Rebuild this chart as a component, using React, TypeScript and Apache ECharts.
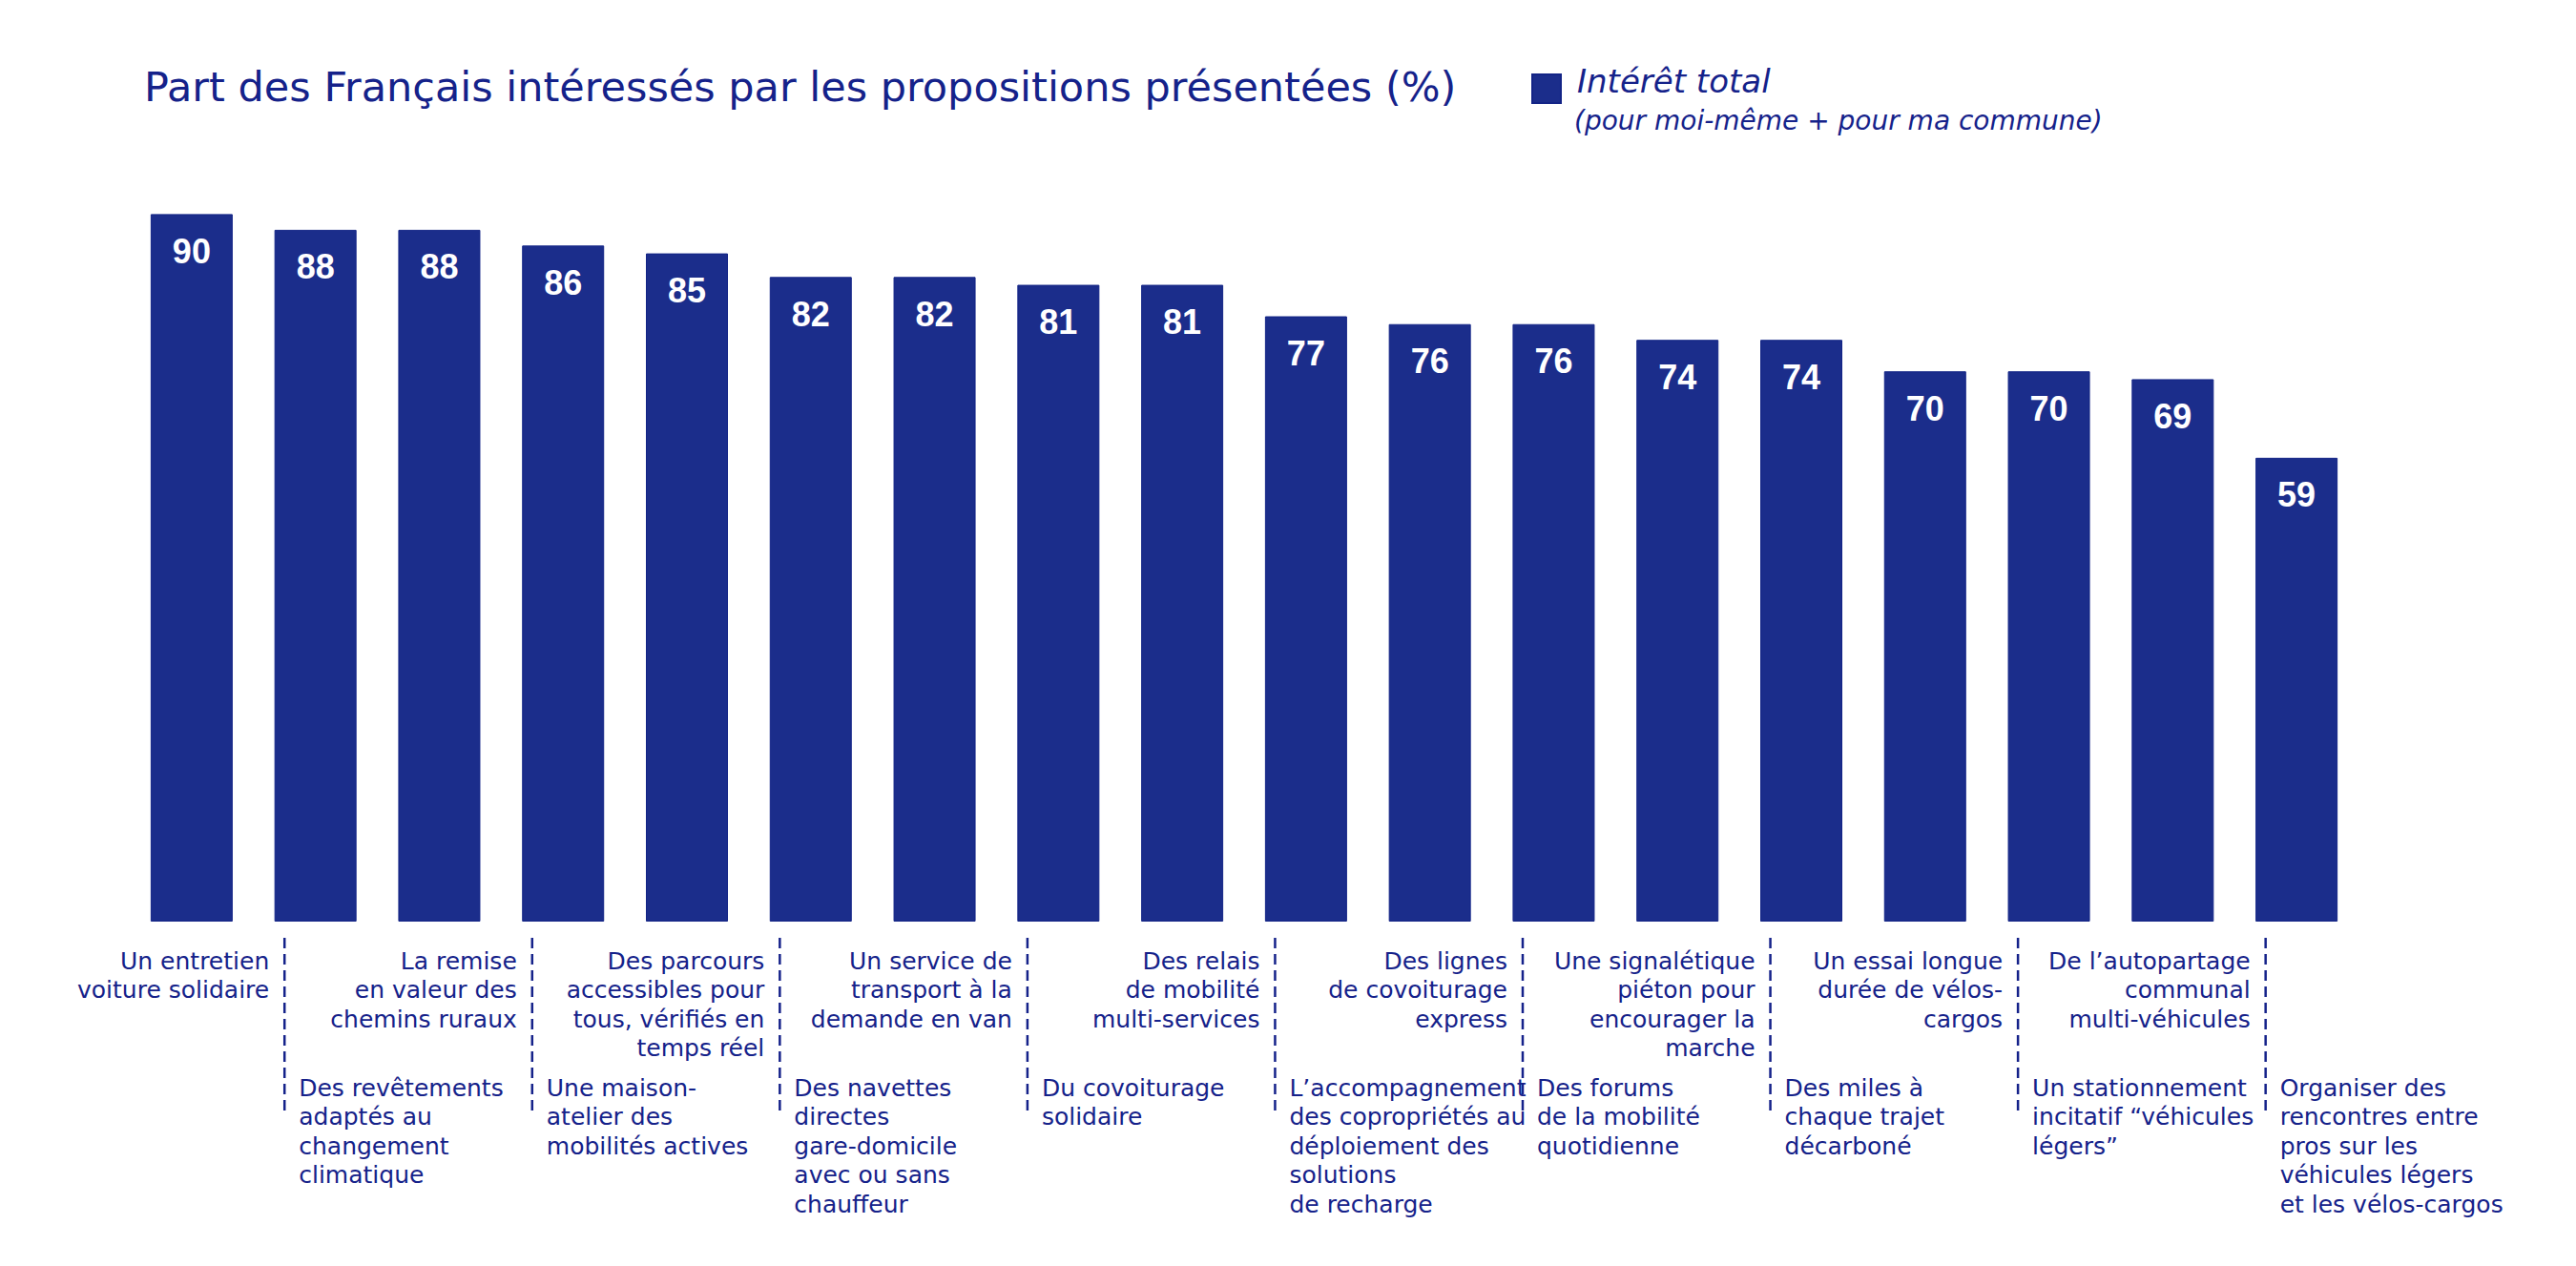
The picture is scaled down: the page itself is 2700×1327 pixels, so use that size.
import React, { useEffect, useRef } from "react";
import * as echarts from "echarts";

const TITLE = "Part des Français intéressés par les propositions présentées (%)";
const SERIES_NAME = "Intérêt total";
const SERIES_NOTE = "(pour moi-même + pour ma commune)";

const categories = [
  "Un entretien\nvoiture solidaire",
  "Des revêtements\nadaptés au\nchangement\nclimatique",
  "La remise\nen valeur des\nchemins ruraux",
  "Une maison-\natelier des\nmobilités actives",
  "Des parcours\naccessibles pour\ntous, vérifiés en\ntemps réel",
  "Des navettes\ndirectes\ngare-domicile\navec ou sans\nchauffeur",
  "Un service de\ntransport à la\ndemande en van",
  "Du covoiturage\nsolidaire",
  "Des relais\nde mobilité\nmulti-services",
  "L’accompagnement\ndes copropriétés au\ndéploiement des\nsolutions\nde recharge",
  "Des lignes\nde covoiturage\nexpress",
  "Des forums\nde la mobilité\nquotidienne",
  "Une signalétique\npiéton pour\nencourager la\nmarche",
  "Des miles à\nchaque trajet\ndécarboné",
  "Un essai longue\ndurée de vélos-\ncargos",
  "Un stationnement\nincitatif “véhicules\nlégers”",
  "De l’autopartage\ncommunal\nmulti-véhicules",
  "Organiser des\nrencontres entre\npros sur les\nvéhicules légers\net les vélos-cargos",
];

const values = [90, 88, 88, 86, 85, 82, 82, 81, 81, 77, 76, 76, 74, 74, 70, 70, 69, 59];

const BAR = "#1b2d8b";
const TEXT = "#15228a";
const FONT = "'DejaVu Sans', 'Noto Sans', sans-serif";

export default function App() {
  const ref = useRef<HTMLDivElement>(null);

  useEffect(() => {
    const chart = echarts.init(ref.current!, null, { renderer: "svg" });
    chart.setOption({
      animation: false,
      backgroundColor: "#ffffff",
      title: {
        text: TITLE,
        left: 151,
        top: 66,
        padding: 0,
        textStyle: {
          color: TEXT,
          fontFamily: FONT,
          fontWeight: "normal",
          fontSize: 43,
          lineHeight: 50,
        },
      },
      legend: {
        data: [SERIES_NAME],
        left: 1605,
        top: 68,
        padding: 0,
        icon: "rect",
        itemWidth: 30,
        itemHeight: 30,
        selectedMode: false,
        formatter: (name: string) => "{a|" + name + "}",
        textStyle: {
          color: TEXT,
          fontFamily: FONT,
          fontStyle: "italic",
          fontSize: 34,
          rich: {
            a: {
              color: TEXT,
              fontFamily: FONT,
              fontStyle: "italic",
              fontSize: 34,
              lineHeight: 40,
              padding: [0, 0, 16, 12],
            },
          },
        },
      },
      graphic: [
        {
          type: "text",
          left: 1650,
          top: 112,
          style: {
            text: SERIES_NOTE,
            fill: TEXT,
            fontFamily: FONT,
            fontStyle: "italic",
            fontSize: 28,
          },
        },
      ],
      grid: { left: 136, right: 228, top: 142, bottom: 361 },
      xAxis: {
        type: "category",
        data: categories,
        axisLine: { show: false },
        axisTick: { show: false },
        axisLabel: { show: false },
      },
      yAxis: {
        type: "value",
        min: 0,
        max: 100,
        show: false,
        splitLine: { show: false },
      },
      series: [
        {
          name: SERIES_NAME,
          type: "bar",
          data: values,
          barWidth: 86,
          itemStyle: { color: BAR, borderColor: "#132486", borderWidth: 1 },
          label: {
            show: true,
            position: "insideTop",
            distance: 21,
            color: "#ffffff",
            fontFamily: "'Liberation Sans', Arial, sans-serif",
            fontWeight: "bold",
            fontSize: 36,
          },
        },
        {
          type: "custom",
          silent: true,
          clip: false,
          data: categories.map((_, i) => [i, 0]),
          encode: { x: 0, y: 1 },
          renderItem: (params: any, api: any) => {
            const i = api.value(0);
            const pt = api.coord([i, 0]);
            const w = api.size([1, 0])[0];
            const cx = pt[0];
            const y0 = pt[1];
            const even = i % 2 === 0;
            const lineH = 30.5;
            const children: any[] = [];
            if (even) {
              const dx = cx + 0.75 * w;
              children.push({
                type: "line",
                shape: { x1: dx, y1: y0 + 17, x2: dx, y2: y0 + 202 },
                style: { stroke: TEXT, lineWidth: 2.5, lineDash: [11, 6] },
              });
              children.push({
                type: "text",
                x: dx - 16,
                y: y0 + 26,
                style: {
                  text: categories[i],
                  fill: TEXT,
                  fontFamily: FONT,
                  fontSize: 25,
                  lineHeight: lineH,
                  align: "right",
                  verticalAlign: "top",
                },
              });
            } else {
              const dx = cx - 0.25 * w;
              children.push({
                type: "text",
                x: dx + 15,
                y: y0 + 159,
                style: {
                  text: categories[i],
                  fill: TEXT,
                  fontFamily: FONT,
                  fontSize: 25,
                  lineHeight: lineH,
                  align: "left",
                  verticalAlign: "top",
                },
              });
            }
            return { type: "group", children };
          },
        },
      ],
    });
    return () => chart.dispose();
  }, []);

  return (
    <div
      ref={ref}
      style={{ position: "absolute", left: 0, top: 0, width: 2700, height: 1327, background: "#fff" }}
    />
  );
}
